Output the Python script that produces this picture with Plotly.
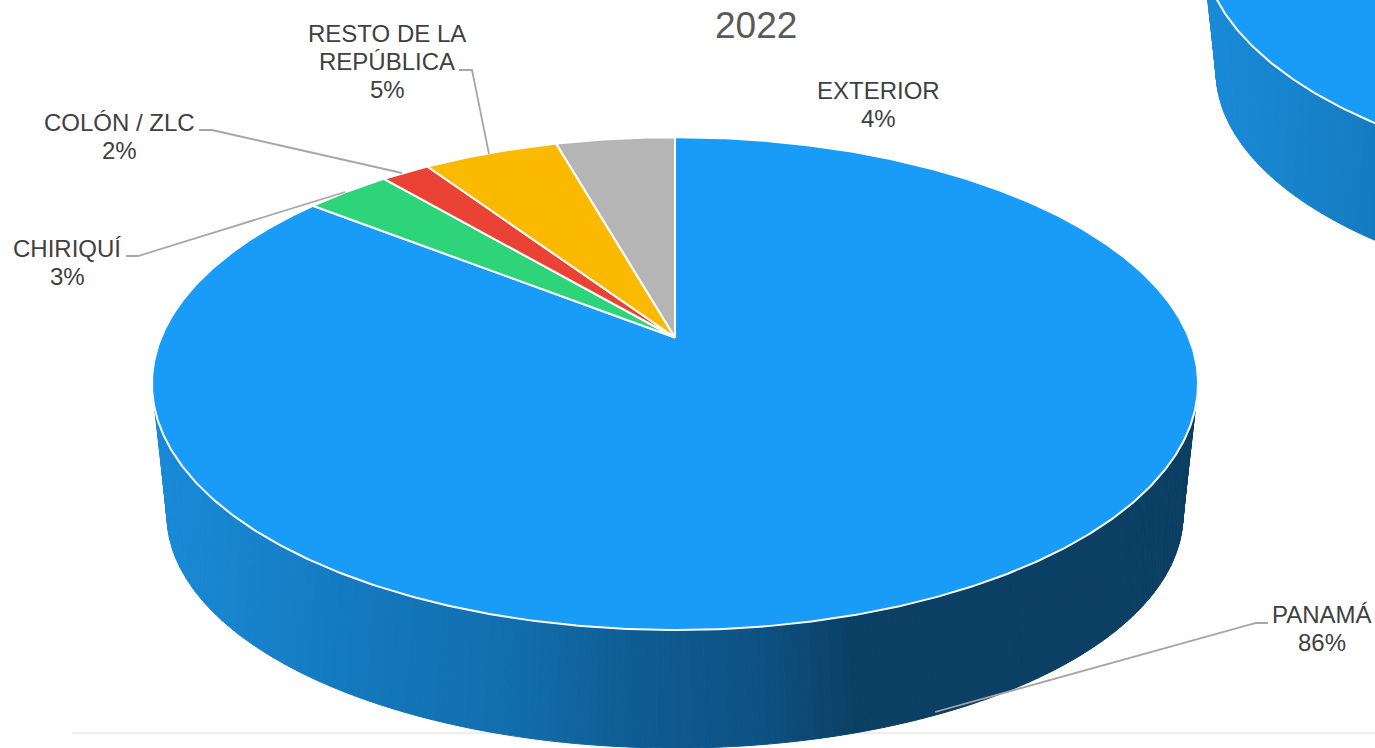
import numpy as np
import plotly.graph_objects as go

# ---- data ----
CATEGORIES = ["PANAMÁ", "CHIRIQUÍ", "COLÓN / ZLC", "RESTO DE LA REPÚBLICA", "EXTERIOR"]
VALUES = [85.6, 3.2, 1.8, 5.0, 4.4]
COLORS = ["#189CF8", "#2ED47A", "#EA4335", "#FBBA00", "#B5B5B5"]
NEIGHBOUR_VALUES = [100]          # the next chart, cropped at the top right corner
NEIGHBOUR_COLORS = ["#189CF8"]
TITLE = "2022"

# ---- geometry of the tilted pie (pixel axes) ----
W, H = 1375, 748
TOP = dict(A=513.8, B=237.8, k=0.187, y0=337.5)
BOTTOM = dict(A=497.7, B=223.7, k=0.2, y0=468.4)
GRAD_X = [0, 245, 345, 475, 605, 705, 1100]
GRAD_C = [(0x1A, 0x8B, 0xD8), (0x12, 0x75, 0xB8), (0x12, 0x70, 0xB0), (0x0F, 0x5D, 0x94),
          (0x0D, 0x52, 0x83), (0x0B, 0x3F, 0x63), (0x0B, 0x3F, 0x63)]
SIDE_TOP_START = 106.0     # degrees from 12 o'clock where the wall leaves the top rim
SIDE_BOT_START = 101.5     # degrees where it meets the widest point of the lower rim


def project(theta, g, cx):
    """theta is clockwise from 12 o'clock, in radians."""
    u, v = np.sin(theta), np.cos(theta)
    w = 1 + g["k"] * v
    return cx + g["A"] * u / w, g["y0"] - g["B"] * v / w


def side_color(x):
    c = [np.interp(x, GRAD_X, [p[i] for p in GRAD_C]) for i in range(3)]
    return "rgb(%d,%d,%d)" % tuple(int(round(a)) for a in c)


def poly(xs, ys, fill, line_color, line_width):
    return go.Scatter(x=list(xs), y=list(ys), mode="lines", fill="toself", fillcolor=fill,
                      line=dict(color=line_color, width=line_width), hoverinfo="skip",
                      showlegend=False)


def draw_pie(fig, values, colors, dx, dy):
    cx = 675.0 + dx
    left = cx - 522
    top = {**TOP, "y0": TOP["y0"] + dy}
    bot = {**BOTTOM, "y0": BOTTOM["y0"] + dy}
    # side wall as thin strips, shaded by horizontal position
    deg = np.arange(SIDE_TOP_START, 360 - SIDE_TOP_START + 0.01, 0.6)
    scale = (180 - SIDE_BOT_START) / (180 - SIDE_TOP_START)
    for a, b in zip(deg[:-1], deg[1:]):
        t = np.radians([a, b])
        s = np.radians([180 + (b - 180) * scale, 180 + (a - 180) * scale])
        x1, y1 = project(t, top, cx)
        x2, y2 = project(s, bot, cx)
        xs = np.r_[x1, x2, x1[0]]
        ys = np.r_[y1, y2, y1[0]]
        col = side_color(xs.mean() - left)
        fig.add_trace(poly(xs, ys, col, col, 1))
    # top face, one polygon per value
    fr = np.cumsum([0] + list(values)) / sum(values) * 2 * np.pi
    for a, b, col in zip(fr[:-1], fr[1:], colors):
        t = np.linspace(a, b, max(4, int((b - a) * 120)))
        x, y = project(t, top, cx)
        ax, ay = project(np.array([0.0]), {**top, "A": 0, "B": 0}, cx)
        fig.add_trace(poly(np.r_[ax, x, ax], np.r_[ay, y, ay], col, "white", 2))


fig = go.Figure()

# faint floor line
fig.add_trace(go.Scatter(x=[72, W], y=[733, 733], mode="lines", line=dict(color="#E8E8E8", width=1.3),
                         hoverinfo="skip", showlegend=False))

draw_pie(fig, NEIGHBOUR_VALUES, NEIGHBOUR_COLORS, 1049, -444)
draw_pie(fig, VALUES, COLORS, 0, 0)

# leader lines
LEADERS = [
    ([1268, 1256, 935], [623, 623, 712]),
    ([126, 138, 345], [256, 256, 192]),
    ([199, 212, 402], [130, 130, 173]),
    ([459, 472, 489], [70, 70, 154]),
]
for lx, ly in LEADERS:
    fig.add_trace(go.Scatter(x=lx, y=ly, mode="lines", line=dict(color="#A6A6A6", width=1.8),
                             hoverinfo="skip", showlegend=False))

# labels: (x, y of first line, lines of the name)
LABEL_POS = {
    "PANAMÁ": (1322, 614, ["PANAMÁ"]),
    "CHIRIQUÍ": (67, 248, ["CHIRIQUÍ"]),
    "COLÓN / ZLC": (119, 122, ["COLÓN / ZLC"]),
    "RESTO DE LA REPÚBLICA": (387, 33, ["RESTO DE LA", "REPÚBLICA"]),
    "EXTERIOR": (878, 90, ["EXTERIOR"]),
}
annotations = []


def add_text(x, y, text, size, color):
    annotations.append(dict(x=x, y=y, xref="x", yref="y", text=text, showarrow=False,
                            xanchor="center", yanchor="middle",
                            font=dict(family="Liberation Sans, Arial, sans-serif", size=size, color=color)))


for cat, val in zip(CATEGORIES, VALUES):
    x, y, lines = LABEL_POS[cat]
    for i, ln in enumerate(lines + [f"{round(val)}%"]):
        add_text(x, y + 28 * i, ln, 24, "#404040")
add_text(756, 25, TITLE, 37, "#595959")

fig.update_layout(
    width=W, height=H, margin=dict(l=0, r=0, t=0, b=0),
    paper_bgcolor="white", plot_bgcolor="white", showlegend=False,
    xaxis=dict(range=[0, W], visible=False, fixedrange=True),
    yaxis=dict(range=[H, 0], visible=False, fixedrange=True),
    annotations=annotations,
)
fig.write_html("out.html", config={"displayModeBar": False},
               post_script="document.body.style.margin='0';document.body.style.overflow='hidden';")
